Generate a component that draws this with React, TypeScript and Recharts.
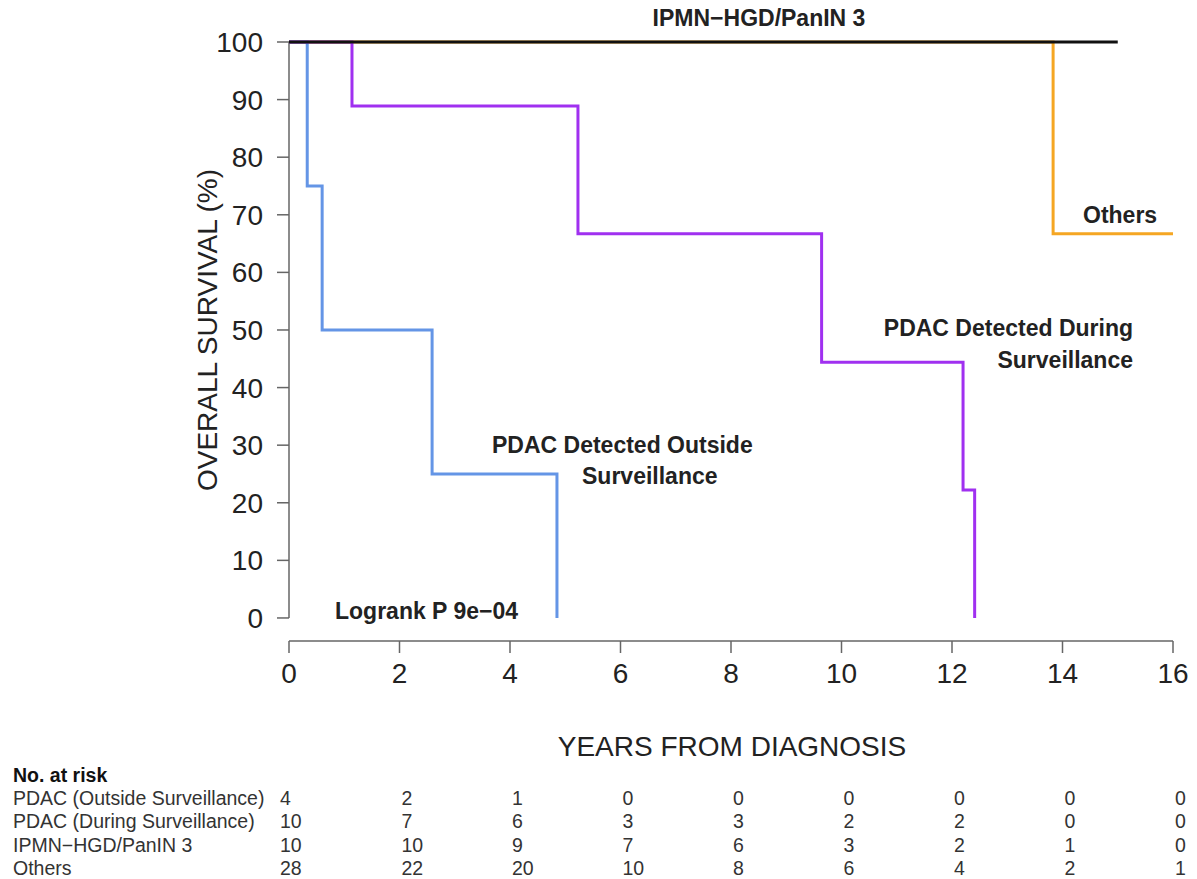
import React from "react";
import { LineChart, Line, XAxis, YAxis, ReferenceLine } from "recharts";

// Kaplan-Meier step points (years, survival %)
const outsideSurveillance = [
  { t: 0, s: 100 },
  { t: 0.33, s: 75 },
  { t: 0.6, s: 50 },
  { t: 2.59, s: 25 },
  { t: 4.85, s: 0 },
];
const duringSurveillance = [
  { t: 0, s: 100 },
  { t: 1.14, s: 88.9 },
  { t: 5.23, s: 66.7 },
  { t: 9.64, s: 44.4 },
  { t: 12.2, s: 22.2 },
  { t: 12.41, s: 0 },
];
const ipmnHgd = [
  { t: 0, s: 100 },
  { t: 15.0, s: 100 },
];
const others = [
  { t: 0, s: 100 },
  { t: 13.83, s: 66.7 },
  { t: 16, s: 66.7 },
];

const xTicks = [0, 2, 4, 6, 8, 10, 12, 14, 16];
const yTicks = [0, 10, 20, 30, 40, 50, 60, 70, 80, 90, 100];

const riskTimes = [0, 2, 4, 6, 8, 10, 12, 14, 16];
const riskGroups = [
  "PDAC (Outside Surveillance)",
  "PDAC (During Surveillance)",
  "IPMN\u2212HGD/PanIN 3",
  "Others",
];
const riskOutside = [4, 2, 1, 0, 0, 0, 0, 0, 0];
const riskDuring = [10, 7, 6, 3, 3, 2, 2, 0, 0];
const riskIpmn = [10, 10, 9, 7, 6, 3, 2, 1, 0];
const riskOthers = [28, 22, 20, 10, 8, 6, 4, 2, 1];
const riskRows = [riskOutside, riskDuring, riskIpmn, riskOthers];

const FONT = "'Liberation Sans', Arial, Helvetica, sans-serif";
const BLUE = "#6495E6";
const PURPLE = "#A030F0";
const ORANGE = "#F5A623";

const W = 1197;
const H = 879;
const PLOT_LEFT = 289;
const PLOT_RIGHT = 1173;
const PX_PER_YEAR = (PLOT_RIGHT - PLOT_LEFT) / 16;

export default function App() {
  const lineProps = {
    type: "stepAfter" as const,
    dataKey: "s",
    dot: false,
    activeDot: false,
    isAnimationActive: false,
    strokeWidth: 3,
  };
  const colX = (t: number) => (t === 0 ? 280 : PLOT_LEFT + 2 + t * PX_PER_YEAR);
  return (
    <div style={{ position: "absolute", left: 0, top: 0, width: W, height: H, background: "#fff" }}>
      <LineChart
        width={W}
        height={H}
        margin={{ top: 42, right: W - PLOT_RIGHT, left: PLOT_LEFT - 60, bottom: 198 }}
        style={{ fontFamily: FONT }}
      >
        <XAxis
          type="number"
          dataKey="t"
          domain={[0, 16]}
          ticks={xTicks}
          interval={0}
          height={40}
          axisLine={{ stroke: "#666", strokeWidth: 1.5 }}
          tickLine={{ stroke: "#666", strokeWidth: 1.5 }}
          tickSize={12}
          tickMargin={10}
          tick={{ fontSize: 28, fill: "#222", fontFamily: FONT }}
        />
        <YAxis
          type="number"
          domain={[-4, 100]}
          ticks={yTicks}
          interval={0}
          width={60}
          axisLine={false}
          tickLine={{ stroke: "#666", strokeWidth: 1.5 }}
          tickSize={12}
          tickMargin={14}
          tick={{ fontSize: 28, fill: "#222", fontFamily: FONT }}
        />
        <ReferenceLine
          segment={[{ x: 0, y: 0 }, { x: 0, y: 100 }]}
          stroke="#666"
          strokeWidth={1.5}
        />
        <Line {...lineProps} data={others} stroke={ORANGE} />
        <Line {...lineProps} data={outsideSurveillance} stroke={BLUE} />
        <Line {...lineProps} data={duringSurveillance} stroke={PURPLE} />
        <Line {...lineProps} data={ipmnHgd} stroke="#111" />
      </LineChart>
      <svg
        width={W}
        height={H}
        style={{ position: "absolute", left: 0, top: 0, pointerEvents: "none", fontFamily: FONT }}
      >
        <g fontWeight="bold" fontSize={23} fill="#222">
          <text x={759} y={26} textAnchor="middle">IPMN{"\u2212"}HGD/PanIN 3</text>
          <text x={1083} y={223}>Others</text>
          <text x={1133} y={336} textAnchor="end">PDAC Detected During</text>
          <text x={1133} y={368} textAnchor="end">Surveillance</text>
          <text x={492} y={453}>PDAC Detected Outside</text>
          <text x={582} y={484}>Surveillance</text>
          <text x={335} y={619}>Logrank P 9e{"\u2212"}04</text>
        </g>
        <text
          x={0}
          y={0}
          transform="translate(217,330) rotate(-90)"
          textAnchor="middle"
          fontSize={28}
          fill="#222"
        >
          OVERALL SURVIVAL (%)
        </text>
        <text x={732} y={756} textAnchor="middle" fontSize={28} fill="#222">
          YEARS FROM DIAGNOSIS
        </text>
        <text x={13} y={782} fontSize={19.5} fontWeight="bold" fill="#111">No. at risk</text>
        {riskGroups.map((g, i) => (
          <g key={g} fontSize={19.5} fill="#333">
            <text x={13} y={805 + i * 23.3}>{g}</text>
            {riskRows[i].map((v, j) => (
              <text key={j} x={colX(riskTimes[j])} y={805 + i * 23.3}>{v}</text>
            ))}
          </g>
        ))}
      </svg>
    </div>
  );
}
